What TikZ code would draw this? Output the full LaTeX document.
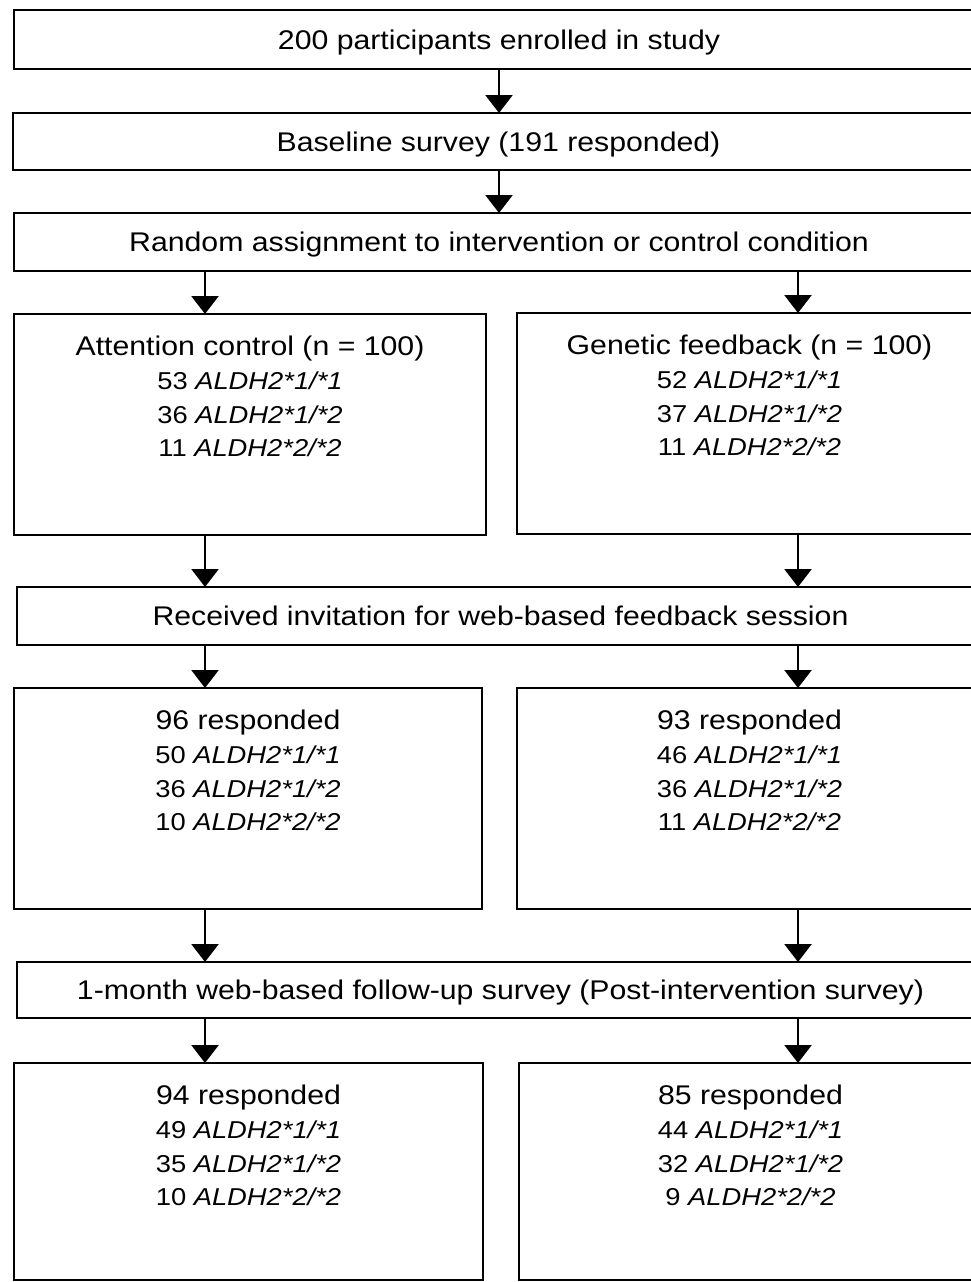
\documentclass[tikz,border=0pt]{standalone}
\usepackage{fontspec}
\setmainfont{Liberation Sans}
\usepackage{graphicx}
\usetikzlibrary{arrows.meta}

% slightly widened glyphs, as in the printed chart
\newcommand{\hs}[1]{\scalebox{1.12}[1]{#1}}
% genotype count followed by the italic allele name
\newcommand{\geno}[2]{#1 \textit{ALDH2*#2}}
% heading and three genotype lines inside a tall box
\newcommand{\boxlines}[5]{%
  \node[headtxt] (#1-h) at ([yshift=-41pt]#1.north) {\hs{#2}};
  \node[genotxt] (#1-a) at ([yshift=-75pt]#1.north) {\hs{#3}};
  \node[genotxt] (#1-b) at ([yshift=-109pt]#1.north) {\hs{#4}};
  \node[genotxt] (#1-c) at ([yshift=-142pt]#1.north) {\hs{#5}};}

\begin{document}
\begin{tikzpicture}[x=1pt,y=-1pt,
  frame/.style={draw=black, line width=2.6pt, fill=white, inner sep=0pt, outer sep=0pt},
  widebox/.style={frame, minimum height=#1, text height=19.3pt, text depth=0pt,
                  font=\fontsize{27}{27}\selectfont},
  headtxt/.style={anchor=base, inner sep=0pt, font=\fontsize{27}{27}\selectfont},
  genotxt/.style={anchor=base, inner sep=0pt, font=\fontsize{24.4}{24.4}\selectfont},
  flow/.style={line width=2.6pt, -{Triangle[width=27pt,length=18pt]}}
]
\useasboundingbox (0,0) rectangle (971,1282);
\fill[white] (0,0) rectangle (971,1282);
\clip (0,0) rectangle (971,1282);

% columns of the two study arms
\coordinate (colL) at (205,0);
\coordinate (colR) at (798,0);

% full-width steps
\node[widebox=59pt, minimum width=970pt] (enrol) at (499,39.5)
  {\hs{200 participants enrolled in study}};
\node[widebox=57pt, minimum width=971pt] (base) at (498.5,141.5)
  {\hs{Baseline survey (191 responded)}};
\node[widebox=58pt, minimum width=970pt] (rand) at (499,242)
  {\hs{Random assignment to intervention or control condition}};
\node[widebox=58pt, minimum width=967pt] (invite) at (500.5,616)
  {\hs{Received invitation for web-based feedback session}};
\node[widebox=56pt, minimum width=967pt] (follow) at (500.5,990)
  {\hs{1-month web-based follow-up survey (Post-intervention survey)}};

% arm boxes
\node[frame, minimum width=472pt, minimum height=221pt] (ctlA) at (250,424.5) {};
\node[frame, minimum width=465pt, minimum height=221pt] (genA) at (749.5,423.5) {};
\node[frame, minimum width=468pt, minimum height=221pt] (ctlB) at (248,798.5) {};
\node[frame, minimum width=465pt, minimum height=221pt] (genB) at (749.5,798.5) {};
\node[frame, minimum width=469pt, minimum height=217pt] (ctlC) at (248.5,1171.5) {};
\node[frame, minimum width=463pt, minimum height=217pt] (genC) at (750.5,1171.5) {};

\boxlines{ctlA}{Attention control (n = 100)}{\geno{53}{1/*1}}{\geno{36}{1/*2}}{\geno{11}{2/*2}}
\boxlines{genA}{Genetic feedback (n = 100)}{\geno{52}{1/*1}}{\geno{37}{1/*2}}{\geno{11}{2/*2}}
\boxlines{ctlB}{96 responded}{\geno{50}{1/*1}}{\geno{36}{1/*2}}{\geno{10}{2/*2}}
\boxlines{genB}{93 responded}{\geno{46}{1/*1}}{\geno{36}{1/*2}}{\geno{11}{2/*2}}
\boxlines{ctlC}{94 responded}{\geno{49}{1/*1}}{\geno{35}{1/*2}}{\geno{10}{2/*2}}
\boxlines{genC}{85 responded}{\geno{44}{1/*1}}{\geno{32}{1/*2}}{\geno{9}{2/*2}}

% connectors
\draw[flow] (enrol.south) -- (enrol.south |- base.north);
\draw[flow] (enrol.south |- base.south) -- (enrol.south |- rand.north);
\draw[flow] (rand.south -| colL) -- (ctlA.north -| colL);
\draw[flow] (rand.south -| colR) -- (genA.north -| colR);
\draw[flow] (ctlA.south -| colL) -- (invite.north -| colL);
\draw[flow] (genA.south -| colR) -- (invite.north -| colR);
\draw[flow] (invite.south -| colL) -- (ctlB.north -| colL);
\draw[flow] (invite.south -| colR) -- (genB.north -| colR);
\draw[flow] (ctlB.south -| colL) -- (follow.north -| colL);
\draw[flow] (genB.south -| colR) -- (follow.north -| colR);
\draw[flow] (follow.south -| colL) -- (ctlC.north -| colL);
\draw[flow] (follow.south -| colR) -- (genC.north -| colR);
\end{tikzpicture}
\end{document}
